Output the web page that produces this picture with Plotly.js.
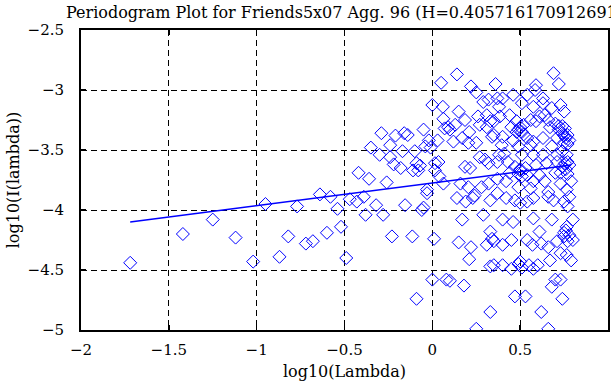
<!DOCTYPE html>
<html>
<head>
<meta charset="utf-8">
<script src="https://cdn.plot.ly/plotly-3.0.1.min.js"></script>
<style>html,body{margin:0;padding:0;background:#fff;}#chart{width:611px;height:385px;}</style>
</head>
<body>
<div id="chart"></div>
<script>
// log10(Lambda) values of the periodogram points
var logLambda = [
-1.72,-1.42,-1.25,-1.12,-1.02,-0.95,-0.87,-0.82,-0.77,-0.72,-0.68,-0.64,-0.60,-0.58,-0.54,-0.52,-0.49,-0.47,-0.43,-0.42,
-0.39,-0.38,-0.36,-0.35,-0.32,-0.30,-0.29,-0.28,-0.26,-0.24,-0.24,-0.23,-0.22,-0.21,-0.18,-0.17,-0.16,-0.155,-0.14,-0.11,
-0.114,-0.10,-0.09,-0.09,-0.08,-0.07,-0.06,-0.05,-0.05,-0.04,-0.03,-0.03,-0.02,-0.01,0.00,0.00,0.01,0.015,0.015,0.03,
0.035,0.04,0.05,0.06,0.063,0.063,0.07,0.08,0.09,0.10,0.10,0.12,0.13,0.14,0.14,0.15,0.15,0.16,0.17,0.17,
0.18,0.186,0.186,0.19,0.205,0.205,0.21,0.21,0.215,0.22,0.22,0.23,0.24,0.25,0.25,0.25,0.26,0.27,0.27,0.28,
0.29,0.29,0.30,0.31,0.31,0.31,0.32,0.32,0.32,0.33,0.33,0.33,0.33,0.33,0.34,0.34,0.35,0.35,0.35,0.35,
0.36,0.37,0.37,0.37,0.37,0.38,0.38,0.385,0.395,0.40,0.40,0.40,0.40,0.40,0.41,0.42,0.42,0.43,0.44,0.44,
0.45,0.45,0.45,0.46,0.46,0.46,0.47,0.47,0.47,0.48,0.49,0.49,0.49,0.50,0.50,0.51,0.51,0.51,0.52,0.53,
0.53,0.54,0.54,0.54,0.54,0.54,0.55,0.56,0.56,0.56,0.57,0.575,0.575,0.575,0.575,0.575,0.575,0.575,0.585,0.59,
0.59,0.59,0.60,0.61,0.61,0.61,0.62,0.62,0.63,0.63,0.63,0.63,0.64,0.64,0.65,0.66,0.66,0.66,0.66,0.66,
0.67,0.67,0.68,0.68,0.68,0.68,0.69,0.69,0.70,0.70,0.70,0.71,0.71,0.71,0.71,0.72,0.72,0.73,0.73,0.73,
0.73,0.74,0.74,0.74,0.74,0.75,0.75,0.75,0.75,0.755,0.755,0.765,0.765,0.765,0.765,0.77,0.77,0.78,0.78,0.78,
0.78,0.79,0.79,0.80,0.80,
0.48,0.50,0.52,0.49,0.51,0.50,0.49,0.51,0.50,0.76,0.75,0.77,0.76,0.77,0.75,0.76,0.77,0.74,0.72,0.73,0.77
];
// log10(I(lambda)) values of the periodogram points
var logPeriodogram = [
-4.44,-4.20,-4.08,-4.23,-4.43,-3.95,-4.39,-4.22,-3.97,-4.28,-4.26,-3.87,-4.19,-3.89,-3.99,-4.14,-4.40,-3.91,-3.93,-3.69,
-3.89,-4.04,-3.74,-3.48,-3.96,-3.54,-3.36,-4.04,-3.77,-3.56,-3.46,-4.22,-3.62,-3.38,-3.65,-3.51,-3.36,-3.96,-3.375,-3.67,
-4.22,-3.51,-4.74,-3.61,-3.67,-3.63,-4.00,-3.33,-3.98,-3.47,-3.86,-3.83,-3.42,-3.48,-4.58,-3.125,-4.24,-3.61,-3.67,-3.42,
-3.60,-3.72,-2.94,-3.14,-3.24,-3.78,-3.32,-4.58,-3.31,-3.33,-4.59,-3.43,-3.29,-2.87,-3.90,-3.18,-4.27,-3.78,-3.40,-4.08,
-4.63,-3.25,-3.64,-3.93,-3.44,-3.81,-3.35,-4.41,-3.65,-2.97,-4.31,-3.90,-3.88,-3.02,-3.44,-4.99,-3.22,-3.29,-3.56,-3.81,
-3.10,-4.04,-3.58,-3.31,-3.21,-4.29,-3.08,-3.61,-3.78,-3.26,-3.92,-4.18,-4.47,-4.85,-3.39,-4.24,-3.26,-3.375,-4.26,-4.46,
-2.95,-3.07,-3.60,-3.74,-3.86,-3.14,-3.54,-3.22,-3.46,-3.07,-3.39,-4.08,-4.29,-4.46,-3.53,-3.76,-3.90,-3.60,-3.21,-3.69,
-3.31,-4.25,-4.49,-3.04,-3.42,-4.10,-3.64,-3.92,-4.72,-3.26,-3.33,-3.47,-3.81,-3.67,-3.94,-3.11,-3.35,-3.54,-3.29,-3.65,
-4.72,-3.04,-3.40,-3.71,-3.93,-4.25,-4.46,-3.25,-3.46,-3.82,-4.29,-3.14,-3.43,-3.54,-3.76,-3.90,-4.07,-4.49,-3.00,-2.96,
-3.26,-3.625,-4.46,-3.22,-3.71,-4.18,-4.28,-4.85,-3.07,-3.11,-3.40,-3.54,-3.21,-3.76,-3.61,-3.25,-3.85,-3.89,-4.31,-4.99,
-3.31,-4.42,-3.15,-3.47,-4.08,-4.64,-2.86,-3.92,-3.28,-3.69,-4.58,-3.40,-3.54,-3.60,-4.26,-2.95,-3.33,-3.125,-3.78,-4.36,
-4.58,-3.36,-3.51,-3.64,-4.74,-3.18,-3.44,-3.93,-4.19,-3.32,-3.61,-3.54,-3.83,-4.14,-4.375,-3.375,-3.97,-3.42,-3.625,-3.89,
-4.21,-3.76,-4.42,-4.08,-4.25,
-3.35,-3.31,-3.37,-3.70,-3.72,-3.66,-4.45,-4.48,-4.43,-3.40,-3.38,-3.45,-3.66,-3.60,-4.22,-4.17,-4.26,-3.30,-3.30,-3.69,-3.70
];
// least-squares fit line end points
var fitX = [-1.72, 0.79];
var fitY = [-4.10, -3.625];
var xTicks = [-2, -1.5, -1, -0.5, 0, 0.5, 1];
var yTicks = [-5, -4.5, -4, -3.5, -3, -2.5];

var FONT = 'DejaVu Serif, serif';
var traces = [
  {x: logLambda, y: logPeriodogram, type: 'scatter', mode: 'markers',
   marker: {symbol: 'diamond-open', size: 10, color: '#0000ff', line: {width: 1, color: '#0000ff'}},
   hoverinfo: 'none'},
  {x: fitX, y: fitY, type: 'scatter', mode: 'lines',
   line: {color: '#0000ff', width: 1.5}, hoverinfo: 'none'}
];
var axisCommon = {
  showline: true, linecolor: '#000', linewidth: 2, mirror: 'ticks',
  ticks: 'inside', ticklen: 5, tickwidth: 1.5, tickcolor: '#000',
  showgrid: true, gridcolor: '#000', gridwidth: 1, griddash: '6px,4px',
  zeroline: false, tickfont: {family: FONT, size: 15, color: '#000'}
};
var layout = {
  width: 611, height: 385,
  margin: {l: 81, r: 3, t: 30, b: 55},
  paper_bgcolor: '#fff', plot_bgcolor: '#fff',
  showlegend: false,
  title: {text: 'Periodogram Plot for Friends5x07 Agg. 96 (H=0.405716170912691)',
          font: {family: FONT, size: 16, color: '#000'},
          x: 0.5, xref: 'paper', xanchor: 'center', y: 0.968, yref: 'container', yanchor: 'middle'},
  xaxis: Object.assign({}, axisCommon, {
    range: [-2, 1], tickmode: 'array', tickvals: xTicks, ticklabelstandoff: 5,
    title: {text: 'log10(Lambda)', font: {family: FONT, size: 16, color: '#000'}, standoff: 8}
  }),
  yaxis: Object.assign({}, axisCommon, {
    range: [-5, -2.5], tickmode: 'array', tickvals: yTicks, ticklabelstandoff: 12,
    title: {text: 'log10(I(lambda))', font: {family: FONT, size: 16, color: '#000'}, standoff: 4}
  })
};
Plotly.newPlot('chart', traces, layout, {staticPlot: true, displayModeBar: false});
</script>
</body>
</html>
